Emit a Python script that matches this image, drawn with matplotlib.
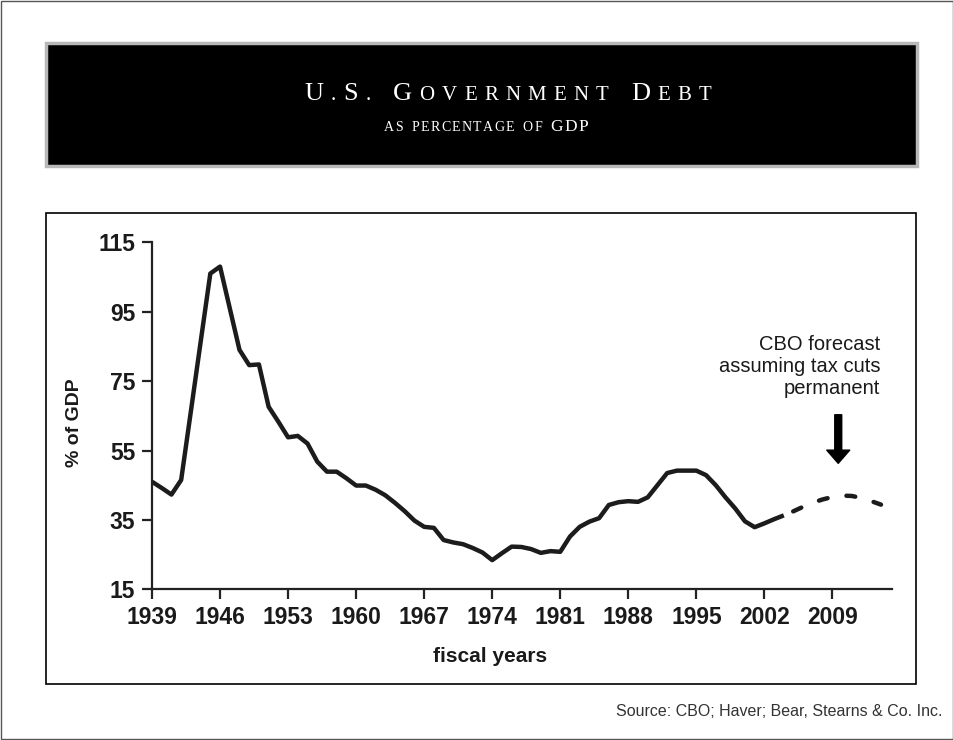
import matplotlib
matplotlib.use('Agg')
import matplotlib.pyplot as plt
from matplotlib.patches import Rectangle
from matplotlib.offsetbox import TextArea, HPacker, DrawingArea, AnnotationBbox

# debt held as % of GDP
years = list(range(1939, 2005))
debt = [46.0, 44.2, 42.3, 46.5, 66.3, 86.2, 106.0, 108.0, 96.0, 84.0,
        79.6, 79.8, 67.6, 63.3, 58.8, 59.2, 57.0, 51.8, 48.9, 48.9,
        47.0, 44.9, 44.9, 43.7, 42.1, 39.9, 37.5, 34.8, 33.0, 32.7,
        29.2, 28.5, 28.0, 26.9, 25.6, 23.4, 25.4, 27.3, 27.2, 26.6,
        25.5, 26.0, 25.8, 30.2, 33.0, 34.5, 35.5, 39.3, 40.1, 40.4,
        40.2, 41.5, 45.0, 48.5, 49.2, 49.2, 49.2, 47.9, 45.0, 41.5,
        38.3, 34.6, 32.9, 34.0, 35.2, 36.3]

# CBO forecast (tax cuts permanent)
forecast_years = list(range(2004, 2015))
forecast = [36.3, 37.5, 38.8, 40.0, 40.9, 41.6, 42.0, 41.9, 41.3, 40.4, 39.4]

yticks = [15, 35, 55, 75, 95, 115]
xticks = list(range(1939, 2010, 7))

title_parts = [("U", True), (".", False), ("S", True), (".", False), (" ", None),
               ("G", True), ("OVERNMENT", False), (" ", None),
               ("D", True), ("EBT", False)]
subtitle_parts = [("AS", False), (" ", None), ("PERCENTAGE", False), (" ", None),
                  ("OF", False), (" ", None), ("GDP", True)]

plt.rcParams['font.family'] = ['Liberation Sans', 'DejaVu Sans']

W, H = 954, 740
fig = plt.figure(figsize=(W / 100, H / 100), dpi=100)
fig.patch.set_facecolor('white')


def fx(px):
    return px / W


def fy(py):
    return 1 - py / H


# outer border
fig.add_artist(Rectangle((0.001, 0.001), 0.998, 0.998, transform=fig.transFigure,
                         fill=False, edgecolor='#555555', lw=1.0))

# black title banner
fig.add_artist(Rectangle((fx(46), fy(166)), fx(917) - fx(46), fy(43) - fy(166),
                         transform=fig.transFigure, facecolor='black',
                         edgecolor='#b8b8b8', lw=2.5))

# chart frame
fig.add_artist(Rectangle((fx(46), fy(684)), fx(916) - fx(46), fy(213) - fy(684),
                         transform=fig.transFigure, fill=False,
                         edgecolor='black', lw=1.2))


def small_caps(parts, big, small, gap, word_gap, weight='normal'):
    kids = []
    for txt, is_big in parts:
        if is_big is None:
            kids.append(DrawingArea(word_gap, 1))
            continue
        size = big if is_big else small
        for ch in txt:
            kids.append(TextArea(ch, textprops=dict(family='Liberation Serif', color='white',
                                                     fontsize=size, fontweight=weight)))
    return HPacker(children=kids, sep=gap, align='baseline', pad=0)


title_box = small_caps(title_parts, 19, 15, 5.2, 6)
fig.add_artist(AnnotationBbox(title_box, (fx(508), fy(94)), xycoords='figure fraction',
                              frameon=False, box_alignment=(0.5, 0.5)))
sub_box = small_caps(subtitle_parts, 12.5, 10, 1.0, 4)
fig.add_artist(AnnotationBbox(sub_box, (fx(486), fy(127)), xycoords='figure fraction',
                              frameon=False, box_alignment=(0.5, 0.5)))

ax = fig.add_axes([fx(152), fy(589.3), fx(891.7) - fx(152), fy(242.3) - fy(589.3)])
ax.plot(years, debt, color='#1c1c1c', lw=3.2, solid_joinstyle='round', solid_capstyle='butt')
ax.plot(forecast_years, forecast, color='#1c1c1c', lw=3.2,
        linestyle=(4.0, (2.0, 4.3)), dash_capstyle='round')

ax.set_xlim(1939, 2015.1)
ax.set_ylim(15, 115)
ax.set_xticks(xticks)
ax.set_yticks(yticks)
for s in ['top', 'right']:
    ax.spines[s].set_visible(False)
for s in ['left', 'bottom']:
    ax.spines[s].set_linewidth(1.6)
    ax.spines[s].set_color('#222222')
ax.tick_params(direction='out', length=7, width=1.6, color='#222222',
               labelsize=16.5, pad=5)
for lab in ax.get_xticklabels() + ax.get_yticklabels():
    lab.set_fontweight('bold')
    lab.set_color('#1a1a1a')

fig.text(fx(75), fy(423), '% of GDP', rotation=90, ha='center', va='center',
         fontsize=14, fontweight='bold', color='#1a1a1a')
fig.text(fx(490), fy(657), 'fiscal years', ha='center', va='center',
         fontsize=15, fontweight='bold', color='#1a1a1a')

ax.text(2013.9, 88.2, 'CBO forecast\nassuming tax cuts\npermanent', ha='right', va='top',
        fontsize=14.5, color='#1a1a1a', linespacing=1.2)
ax.annotate('', xy=(2009.6, 51.3), xytext=(2009.6, 65.3),
            arrowprops=dict(arrowstyle='simple,head_length=0.95,head_width=1.65,tail_width=0.5',
                            mutation_scale=10, color='black', shrinkA=0, shrinkB=0))

fig.text(fx(943), fy(712), 'Source: CBO; Haver; Bear, Stearns & Co. Inc.', ha='right',
         va='center', fontsize=11.5, color='#333333')

fig.savefig('out.png', dpi=100)
